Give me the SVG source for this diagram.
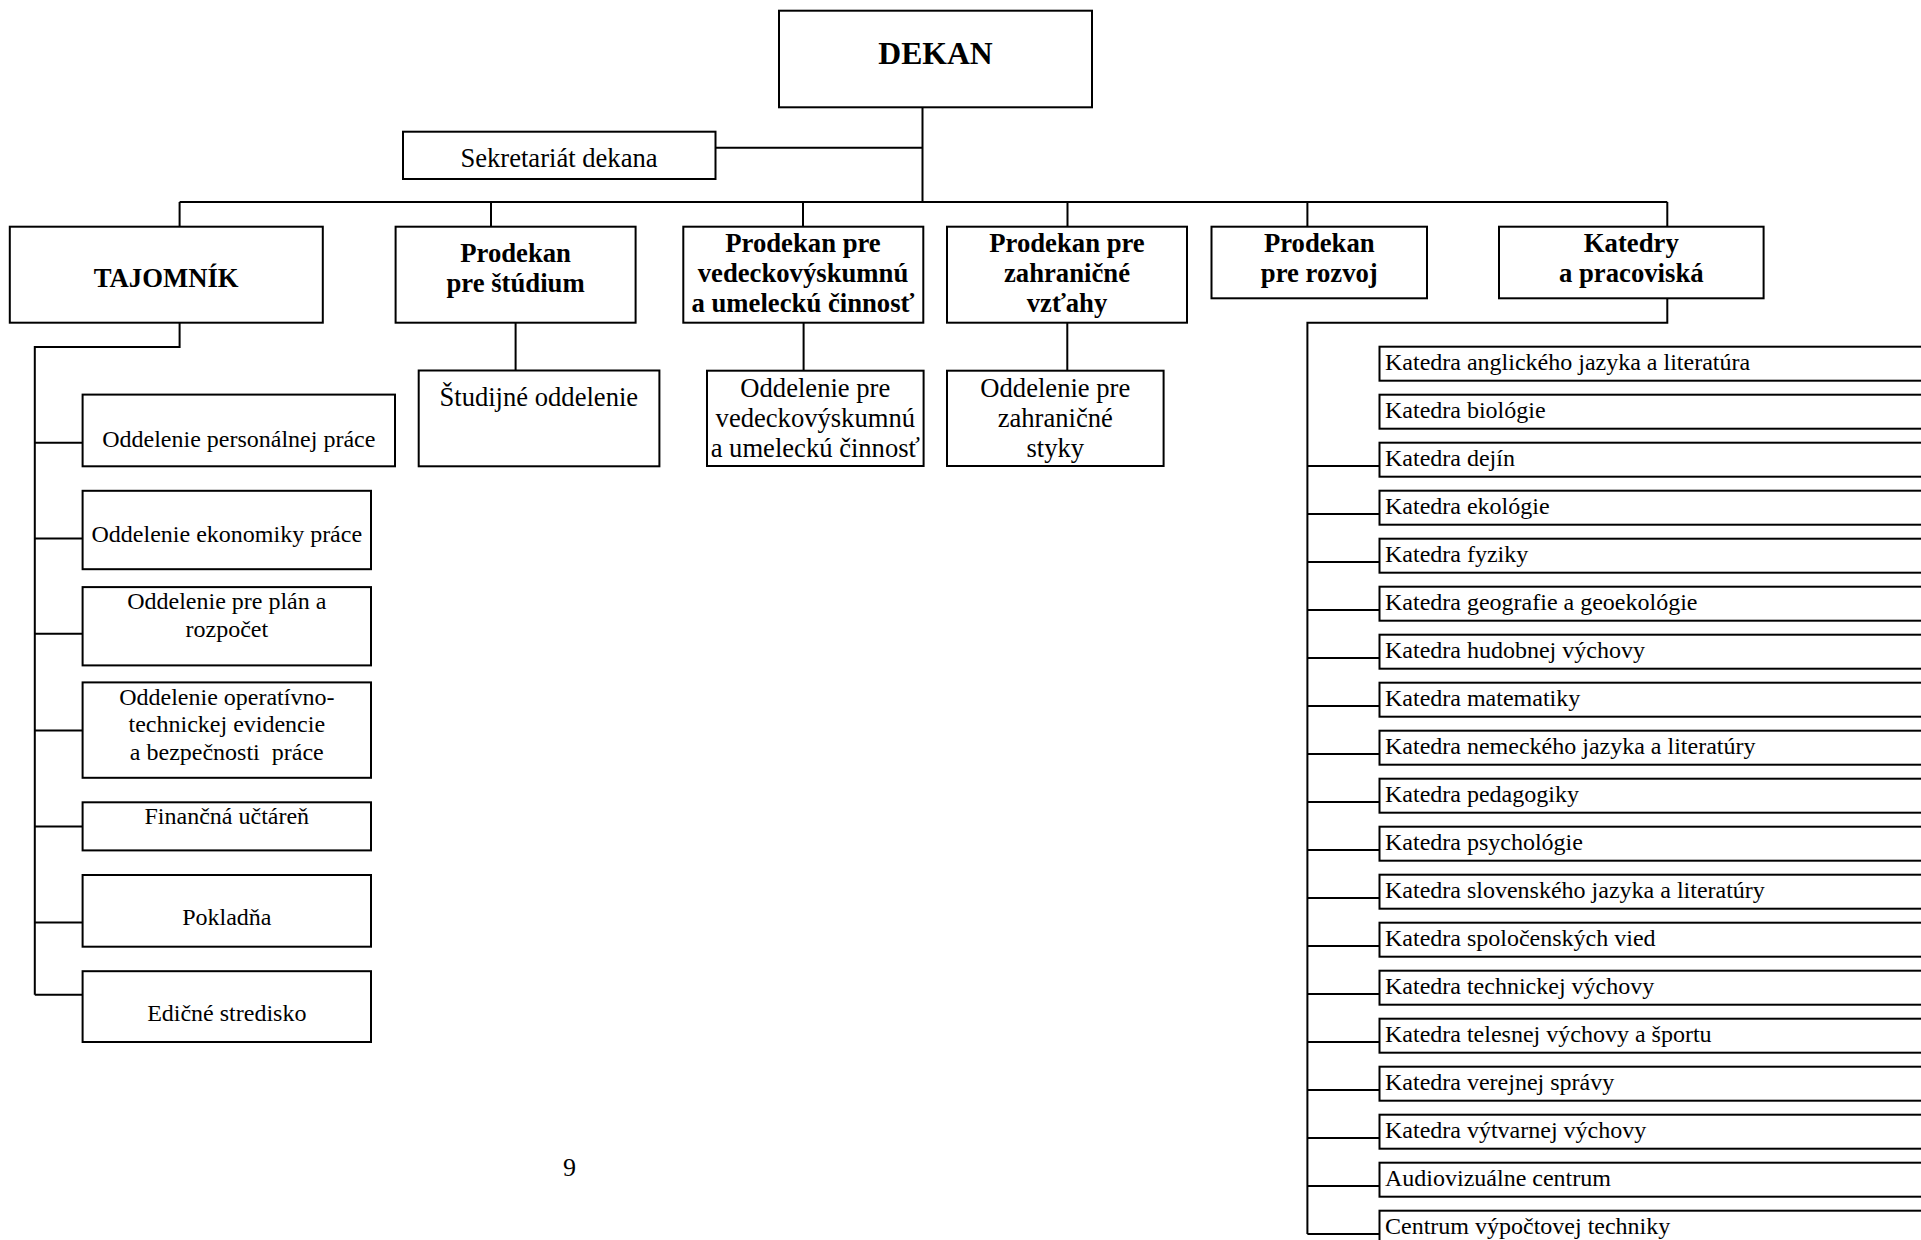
<svg xmlns="http://www.w3.org/2000/svg" width="1921" height="1240" viewBox="0 0 1921 1240">
<style>
.box{fill:#fff;stroke:#000;stroke-width:2}
.c{fill:none;stroke:#000;stroke-width:2}
text{font-family:"Liberation Serif","Times New Roman",serif;fill:#000}
.b{font-weight:bold;font-size:26.7px;text-anchor:middle}
.m{font-size:26.6px;text-anchor:middle}
.s{font-size:24px;text-anchor:middle}
.k{font-size:24px}
</style>
<rect width="1921" height="1240" fill="#fff"/>
<g id="connectors">
<path class="c" d="M922.5 107.3V202M715.5 147.7H922.5M179.6 202H1667.3M179.6 202V226.7M491 202V226.7M803 202V226.7M1067.5 202V226.7M1307.4 202V226.7M1667.3 202V226.7"/>
<path class="c" d="M179.6 322.7V346.9H34.8V994.8M34.8 442.7H82.6M34.8 538.5H82.6M34.8 633.8H82.6M34.8 730.6H82.6M34.8 826.4H82.6M34.8 922.6H82.6M34.8 994.8H82.6"/>
<path class="c" d="M515.6 322.7V370.5M803.6 322.7V370.7M1067.3 322.7V370.7"/>
<path class="c" d="M1667.3 298.3V322.7H1307.4V1234M1307.4 466H1379.5M1307.4 514H1379.5M1307.4 562H1379.5M1307.4 610H1379.5M1307.4 658H1379.5M1307.4 706H1379.5M1307.4 754H1379.5M1307.4 802H1379.5M1307.4 850H1379.5M1307.4 898H1379.5M1307.4 946H1379.5M1307.4 994H1379.5M1307.4 1042H1379.5M1307.4 1090H1379.5M1307.4 1138H1379.5M1307.4 1186H1379.5M1307.4 1234H1379.5"/>
</g>
<g id="dekan"><rect class="box" x="779" y="10.7" width="313" height="96.6"/><text class="b" x="935.5" y="64" style="font-size:31.7px">DEKAN</text></g>
<g id="sekretariat"><rect class="box" x="403" y="131.7" width="312.5" height="47.3"/><text class="m" x="559" y="166.7">Sekretariát dekana</text></g>
<g id="tajomnik"><rect class="box" x="9.8" y="226.7" width="313" height="96"/><text class="b" x="166.2" y="287.3">TAJOMNÍK</text></g>
<g id="prodekan-studium"><rect class="box" x="395.6" y="226.7" width="240" height="96"/><text class="b" x="515.6" y="261.7">Prodekan</text><text class="b" x="515.6" y="291.7">pre štúdium</text></g>
<g id="prodekan-veda"><rect class="box" x="683.3" y="226.7" width="240" height="96"/><text class="b" x="803" y="251.7">Prodekan pre</text><text class="b" x="803" y="281.7">vedeckovýskumnú</text><text class="b" x="803" y="311.7">a umeleckú činnosť</text></g>
<g id="prodekan-zahranicie"><rect class="box" x="947" y="226.7" width="240" height="96"/><text class="b" x="1067" y="251.7">Prodekan pre</text><text class="b" x="1067" y="281.7">zahraničné</text><text class="b" x="1067" y="311.7">vzťahy</text></g>
<g id="prodekan-rozvoj"><rect class="box" x="1211.5" y="226.7" width="215.5" height="71.6"/><text class="b" x="1319.3" y="251.7">Prodekan</text><text class="b" x="1319.3" y="281.7">pre rozvoj</text></g>
<g id="katedry"><rect class="box" x="1499" y="226.7" width="264.6" height="71.6"/><text class="b" x="1631.3" y="251.7">Katedry</text><text class="b" x="1631.3" y="281.7">a pracoviská</text></g>
<g id="studijne"><rect class="box" x="418.7" y="370.5" width="240.7" height="95.8"/><text class="m" x="538.8" y="405.9">Študijné oddelenie</text></g>
<g id="odd-veda"><rect class="box" x="707" y="370.7" width="216.6" height="95.3"/><text class="m" x="815.3" y="396.7">Oddelenie pre</text><text class="m" x="815.3" y="426.7">vedeckovýskumnú</text><text class="m" x="815.3" y="456.7">a umeleckú činnosť</text></g>
<g id="odd-zahranicie"><rect class="box" x="947" y="370.7" width="216.6" height="95.3"/><text class="m" x="1055.3" y="396.7">Oddelenie pre</text><text class="m" x="1055.3" y="426.7">zahraničné</text><text class="m" x="1055.3" y="456.7">styky</text></g>
<g id="odd-personalne"><rect class="box" x="82.6" y="394.6" width="312.4" height="71.7"/><text class="s" x="238.8" y="446.5">Oddelenie personálnej práce</text></g>
<g id="odd-ekonomika"><rect class="box" x="82.6" y="490.8" width="288.4" height="78.4"/><text class="s" x="226.8" y="541.8">Oddelenie ekonomiky práce</text></g>
<g id="odd-plan"><rect class="box" x="82.6" y="587.1" width="288.4" height="78.3"/><text class="s" x="226.8" y="608.8">Oddelenie pre plán a</text><text class="s" x="226.8" y="637.1">rozpočet</text></g>
<g id="odd-operativne"><rect class="box" x="82.6" y="682.4" width="288.4" height="95.4"/><text class="s" x="226.8" y="704.6">Oddelenie operatívno-</text><text class="s" x="226.8" y="732">technickej evidencie</text><text class="s" x="226.8" y="759.8" style="white-space:pre">a bezpečnosti  práce</text></g>
<g id="uctaren"><rect class="box" x="82.6" y="802.3" width="288.4" height="48.1"/><text class="s" x="226.8" y="824">Finančná učtáreň</text></g>
<g id="pokladna"><rect class="box" x="82.6" y="875" width="288.4" height="71.7"/><text class="s" x="226.8" y="925">Pokladňa</text></g>
<g id="edicne"><rect class="box" x="82.6" y="971.2" width="288.4" height="70.8"/><text class="s" x="226.8" y="1020.8">Edičné stredisko</text></g>
<g id="k01"><rect class="box" x="1379.5" y="346.7" width="560" height="34"/><text class="k" x="1385" y="370">Katedra anglického jazyka a literatúra</text></g>
<g id="k02"><rect class="box" x="1379.5" y="394.7" width="560" height="34"/><text class="k" x="1385" y="418">Katedra biológie</text></g>
<g id="k03"><rect class="box" x="1379.5" y="442.7" width="560" height="34"/><text class="k" x="1385" y="466">Katedra dejín</text></g>
<g id="k04"><rect class="box" x="1379.5" y="490.7" width="560" height="34"/><text class="k" x="1385" y="514">Katedra ekológie</text></g>
<g id="k05"><rect class="box" x="1379.5" y="538.7" width="560" height="34"/><text class="k" x="1385" y="562">Katedra fyziky</text></g>
<g id="k06"><rect class="box" x="1379.5" y="586.7" width="560" height="34"/><text class="k" x="1385" y="610">Katedra geografie a geoekológie</text></g>
<g id="k07"><rect class="box" x="1379.5" y="634.7" width="560" height="34"/><text class="k" x="1385" y="658">Katedra hudobnej výchovy</text></g>
<g id="k08"><rect class="box" x="1379.5" y="682.7" width="560" height="34"/><text class="k" x="1385" y="706">Katedra matematiky</text></g>
<g id="k09"><rect class="box" x="1379.5" y="730.7" width="560" height="34"/><text class="k" x="1385" y="754">Katedra nemeckého jazyka a literatúry</text></g>
<g id="k10"><rect class="box" x="1379.5" y="778.7" width="560" height="34"/><text class="k" x="1385" y="802">Katedra pedagogiky</text></g>
<g id="k11"><rect class="box" x="1379.5" y="826.7" width="560" height="34"/><text class="k" x="1385" y="850">Katedra psychológie</text></g>
<g id="k12"><rect class="box" x="1379.5" y="874.7" width="560" height="34"/><text class="k" x="1385" y="898">Katedra slovenského jazyka a literatúry</text></g>
<g id="k13"><rect class="box" x="1379.5" y="922.7" width="560" height="34"/><text class="k" x="1385" y="946">Katedra spoločenských vied</text></g>
<g id="k14"><rect class="box" x="1379.5" y="970.7" width="560" height="34"/><text class="k" x="1385" y="994">Katedra technickej výchovy</text></g>
<g id="k15"><rect class="box" x="1379.5" y="1018.7" width="560" height="34"/><text class="k" x="1385" y="1042">Katedra telesnej výchovy a športu</text></g>
<g id="k16"><rect class="box" x="1379.5" y="1066.7" width="560" height="34"/><text class="k" x="1385" y="1090">Katedra verejnej správy</text></g>
<g id="k17"><rect class="box" x="1379.5" y="1114.7" width="560" height="34"/><text class="k" x="1385" y="1138">Katedra výtvarnej výchovy</text></g>
<g id="k18"><rect class="box" x="1379.5" y="1162.7" width="560" height="34"/><text class="k" x="1385" y="1186">Audiovizuálne centrum</text></g>
<g id="k19"><rect class="box" x="1379.5" y="1210.7" width="560" height="34"/><text class="k" x="1385" y="1234">Centrum výpočtovej techniky</text></g>
<text x="569.5" y="1176" style="font-size:26px;text-anchor:middle">9</text>
</svg>
